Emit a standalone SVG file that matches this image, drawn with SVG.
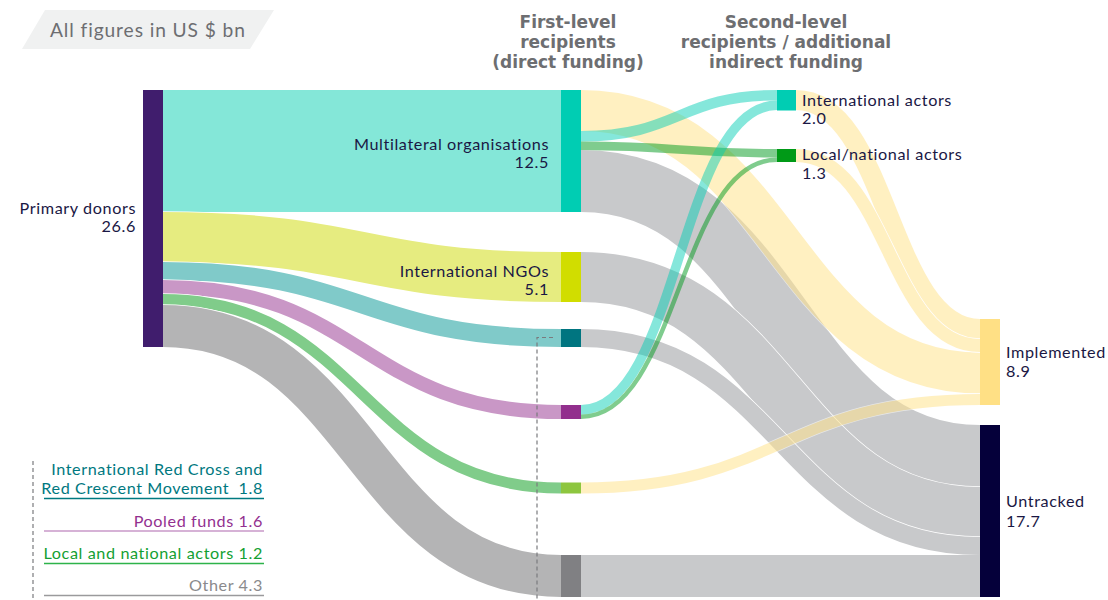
<svg xmlns="http://www.w3.org/2000/svg" width="1108" height="600" viewBox="0 0 1108 600">
<style>
  text { font-family: Lato, "Noto Sans", sans-serif; }
  .lbl { font-size: 16.2px; letter-spacing: 0.6px; fill: #1A1744; }
  .hdr { font-family: "DejaVu Sans", Lato, sans-serif; font-size: 17px; font-weight: bold; fill: #6D6E71; text-anchor: middle; }
  .leg { font-size: 16.2px; letter-spacing: 0.6px; text-anchor: end; }
  .lk { fill: none; }
  .under { fill: none; stroke: #FFFFFF; }
  .dash { fill: none; stroke: #7A7B7E; stroke-width: 1.2; stroke-dasharray: 4 3; }
</style>
<rect width="1108" height="600" fill="#FFFFFF"/>

<g id="units">
  <polygon points="45,10 274,10 250,49 22,49" fill="#F0F1F1"/>
  <text x="50" y="37" style="font-size:19.2px;letter-spacing:0.9px;fill:#6D6E71">All figures in US $ bn</text>
</g>

<g id="headers">
  <text class="hdr" x="568" y="28">First-level</text>
  <text class="hdr" x="568" y="48">recipients</text>
  <text class="hdr" x="568" y="68">(direct funding)</text>
  <text class="hdr" x="786" y="28">Second-level</text>
  <text class="hdr" x="786" y="48">recipients / additional</text>
  <text class="hdr" x="786" y="68">indirect funding</text>
</g>

<g id="connectors">
  <g id="donor-links">
    <rect x="163" y="90" width="398" height="122" fill="#84E7D8"/>
    <path class="under" stroke-width="51.5" d="M163,237 C362,237 362,277 561,277"/>
    <path class="lk" stroke="#E6EC80" stroke-width="50" d="M163,237 C362,237 362,277 561,277"/>
    <path class="under" stroke-width="19.5" d="M163,271 C362,271 362,338 561,338"/>
    <path class="lk" stroke="#80CAC9" stroke-width="18" d="M163,271 C362,271 362,338 561,338"/>
    <path class="under" stroke-width="15.5" d="M163,287 C362,287 362,412 561,412"/>
    <path class="lk" stroke="#C997C6" stroke-width="14" d="M163,287 C362,287 362,412 561,412"/>
    <path class="under" stroke-width="12.5" d="M163,299.5 C362,299.5 362,488 561,488"/>
    <path class="lk" stroke="#80CC8A" stroke-width="11" d="M163,299.5 C362,299.5 362,488 561,488"/>
    <path class="under" stroke-width="43.5" d="M163,326 C362,326 362,576 561,576"/>
    <path class="lk" stroke="#B4B4B5" stroke-width="42" d="M163,326 C362,326 362,576 561,576"/>
  </g>
  <g id="untracked-links">
    <path class="under" stroke-width="63.5" d="M581,181 C780.5,181 780.5,456 980,456"/>
    <path class="lk" stroke="#C8C9CB" stroke-width="62" d="M581,181 C780.5,181 780.5,456 980,456"/>
    <path class="under" stroke-width="51.5" d="M581,277 C780.5,277 780.5,512 980,512"/>
    <path class="lk" stroke="#C8C9CB" stroke-width="50" d="M581,277 C780.5,277 780.5,512 980,512"/>
    <path class="under" stroke-width="19.5" d="M581,338 C780.5,338 780.5,546 980,546"/>
    <path class="lk" stroke="#C8C9CB" stroke-width="18" d="M581,338 C780.5,338 780.5,546 980,546"/>
    <rect x="581" y="555" width="399" height="42" fill="#C8C9CB"/>
  </g>
  <g id="implemented-links" opacity="0.55">
    <path class="under" stroke-width="42.5" d="M581,110.5 C780.5,110.5 780.5,373 980,373"/>
    <path class="lk" stroke="#FFE490" stroke-width="41" d="M581,110.5 C780.5,110.5 780.5,373 980,373"/>
    <path class="under" stroke-width="12.5" d="M581,488 C780.5,488 780.5,399.5 980,399.5"/>
    <path class="lk" stroke="#FFE490" stroke-width="11" d="M581,488 C780.5,488 780.5,399.5 980,399.5"/>
    <path class="under" stroke-width="21.5" d="M796,100 C888,100 888,329 980,329"/>
    <path class="lk" stroke="#FFE490" stroke-width="20" d="M796,100 C888,100 888,329 980,329"/>
    <path class="under" stroke-width="14.5" d="M796,155.5 C888,155.5 888,345.5 980,345.5"/>
    <path class="lk" stroke="#FFE490" stroke-width="13" d="M796,155.5 C888,155.5 888,345.5 980,345.5"/>
  </g>
  <g id="second-level-links">
    <path class="lk" stroke="#00CDB3" stroke-opacity="0.48" stroke-width="10.5" d="M581,136.25 C679,136.25 679,95.25 777,95.25"/>
    <path class="lk" stroke="#009A1E" stroke-opacity="0.5" stroke-width="8.5" d="M581,145.75 C679,145.75 679,153.25 777,153.25"/>
    <path class="lk" stroke="#00CDB3" stroke-opacity="0.48" stroke-width="9.5" d="M581,409.75 C679,409.75 679,105.25 777,105.25"/>
    <path class="lk" stroke="#009A1E" stroke-opacity="0.5" stroke-width="4.5" d="M581,416.75 C679,416.75 679,159.75 777,159.75"/>
  </g>
</g>

<g id="node-primary-donors">
  <rect x="143" y="90" width="20" height="257" fill="#401D6D"/>
  <text class="lbl" x="136" y="213.5" text-anchor="end">Primary donors</text>
  <text class="lbl" x="136" y="232" text-anchor="end">26.6</text>
</g>

<g id="node-multilateral">
  <rect x="561" y="90" width="20" height="122" fill="#00CDB3"/>
  <text class="lbl" x="549" y="149.5" text-anchor="end">Multilateral organisations</text>
  <text class="lbl" x="549" y="168" text-anchor="end">12.5</text>
</g>

<g id="node-ingos">
  <rect x="561" y="252" width="20" height="50" fill="#D1DD00"/>
  <text class="lbl" x="549" y="276.5" text-anchor="end">International NGOs</text>
  <text class="lbl" x="549" y="295" text-anchor="end">5.1</text>
</g>

<g id="node-red-cross">
  <rect x="561" y="329" width="20" height="18" fill="#007580"/>
</g>

<g id="node-pooled">
  <rect x="561" y="405" width="20" height="14" fill="#922F8D"/>
</g>

<g id="node-local-first">
  <rect x="561" y="482.5" width="20" height="11" fill="#8DC63F"/>
</g>

<g id="node-other">
  <rect x="561" y="555" width="20" height="42" fill="#808083"/>
</g>

<g id="node-international-actors">
  <rect x="777" y="90" width="19" height="20.5" fill="#00CDB3"/>
  <text class="lbl" x="802" y="105.5">International actors</text>
  <text class="lbl" x="802" y="124">2.0</text>
</g>

<g id="node-local-national-actors">
  <rect x="777" y="149" width="19" height="13" fill="#009A17"/>
  <text class="lbl" x="802" y="160">Local/national actors</text>
  <text class="lbl" x="802" y="178.5">1.3</text>
</g>

<g id="node-implemented">
  <rect x="980" y="319" width="20" height="86" fill="#FFE085"/>
  <text class="lbl" x="1006" y="357.5">Implemented</text>
  <text class="lbl" x="1006" y="377">8.9</text>
</g>

<g id="node-untracked">
  <rect x="980" y="425" width="20" height="172" fill="#05003A"/>
  <text class="lbl" x="1006" y="507">Untracked</text>
  <text class="lbl" x="1006" y="526.5">17.7</text>
</g>

<g id="leader">
  <path class="dash" d="M553,337.5 L537,337.5 L537,600"/>
</g>

<g id="legend">
  <path class="dash" d="M33,461 L33,600"/>
  <text class="leg" x="263" y="474.5" fill="#00787F">International Red Cross and</text>
  <text class="leg" x="263" y="493.5" fill="#00787F" xml:space="preserve">Red Crescent Movement  1.8</text>
  <line x1="44" y1="498.5" x2="264" y2="498.5" stroke="#007A80" stroke-width="1.3"/>
  <text class="leg" x="263" y="526.5" fill="#93308F">Pooled funds 1.6</text>
  <line x1="44" y1="531" x2="264" y2="531" stroke="#C998C8" stroke-width="1.3"/>
  <text class="leg" x="263" y="559" fill="#13A032">Local and national actors 1.2</text>
  <line x1="44" y1="563.5" x2="264" y2="563.5" stroke="#2DB34A" stroke-width="1.3"/>
  <text class="leg" x="263" y="590.5" fill="#8A8A8C">Other 4.3</text>
  <line x1="44" y1="595.5" x2="264" y2="595.5" stroke="#9A9A9C" stroke-width="1.3"/>
</g>
</svg>
